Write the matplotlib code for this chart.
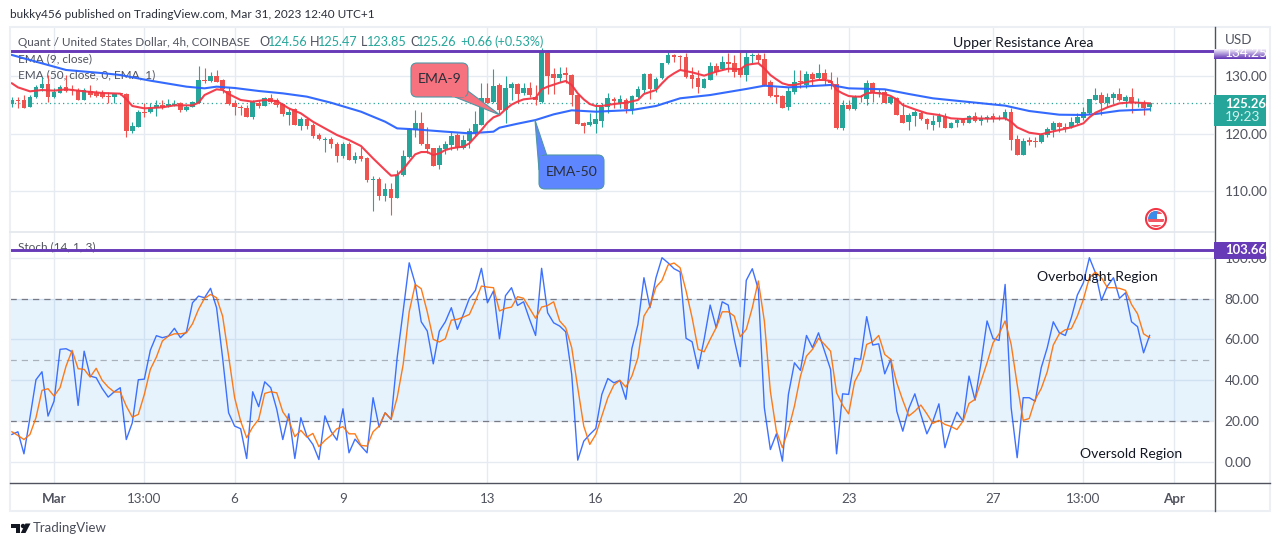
import matplotlib
matplotlib.use("Agg")
import matplotlib.pyplot as plt
import numpy as np
from matplotlib.patches import Circle, FancyBboxPatch, Polygon, Rectangle

plt.rcParams["font.family"] = ["Lato", "DejaVu Sans"]

open_px = [
    125.14, 125.84, 125.84, 124.57, 126.3, 127.86, 128.61, 126.3, 127.11, 128.03,
    127.69, 127.57, 125.84, 127.46, 127.11, 127.11, 126.53, 126.3, 127, 126.88,
    120.52, 121.21, 123.81, 123.76, 124.39, 124.91, 124.8, 124.97, 125.26, 124.1,
    124.57, 125.26, 129.31, 129.19, 130, 129.31, 127.46, 125.26, 124.62, 124.45,
    122.95, 125.37, 124.8, 126.13, 125.84, 125.14, 123.24, 124.22, 121.33, 122.54,
    121.5, 119.77, 118.96, 119.02, 118.21, 116.13, 118.21, 115.43, 116.13, 115.72,
    111.91, 112.14, 109.25, 110.41, 108.9, 112.83, 116.01, 120.64, 121.79, 118.21,
    117.46, 114.57, 117.28, 118.03, 119.77, 117.46, 118.79, 120.06, 121.5, 126.13,
    125.43, 128.44, 124.1, 127.86, 128.61, 127, 127.86, 126.42, 125.55, 133.93,
    130.35, 129.71, 130.46, 130.17, 126.7, 121.91, 121.5, 121.68, 122.25, 124.57,
    126.07, 125.37, 125.84, 124.22, 126.42, 127.57, 130.35, 127.75, 129.6, 132.2,
    133.58, 133.47, 133.24, 130.17, 129.6, 127.86, 129.31, 131.73, 131.16, 132.37,
    132.31, 131.33, 130.17, 133.47, 133.64, 132.95, 129.02, 126.7, 126.53, 124.57,
    127.28, 129.13, 128.44, 130.35, 129.6, 130.58, 129.19, 128.55, 120.92, 124.97,
    124.22, 126.53, 126.07, 128.73, 127.05, 127.22, 125.26, 126.13, 123.24, 122.08,
    123.06, 123.53, 122.54, 121.5, 122.08, 123.06, 121.04, 121.79, 122.54, 121.91,
    123.06, 122.25, 122.6, 123.06, 122.6, 122.66, 123.76, 119.02, 116.36, 118.9,
    118.73, 118.56, 119.77, 120.64, 121.79, 121.21, 121.1, 121.79, 122.77, 123.53,
    125.84, 126.7, 125.26, 126.18, 126.88, 125.66, 126.3, 125.26, 125.26, 124.56,
]
high_px = [
    126.3, 126.3, 126.7, 126.7, 128.4, 129.77, 130.17, 127.86, 128.44, 130.17,
    128.44, 127.86, 127.86, 128.44, 127.57, 127.57, 127.28, 127.11, 127.11, 127,
    122.08, 124.1, 125.26, 125.37, 125.84, 125.84, 125.95, 125.84, 125.55, 124.97,
    125.66, 131.73, 131.33, 130.75, 131.04, 129.42, 128.15, 125.84, 124.97, 124.97,
    125.84, 125.84, 126.42, 126.88, 126.13, 125.26, 124.39, 124.39, 122.83, 122.66,
    121.79, 120.06, 119.48, 119.48, 118.61, 118.61, 118.61, 116.88, 117.75, 115.9,
    112.66, 112.54, 111.5, 111.39, 113.7, 117.17, 120.92, 124.1, 123.81, 121.21,
    117.46, 118.03, 118.79, 120.35, 120.06, 119.77, 120.92, 123.99, 128.73, 128.73,
    131.16, 128.73, 130, 129.02, 128.84, 128.73, 129.02, 128.44, 134.8, 134.5,
    131.33, 131.62, 131.62, 130.35, 126.88, 122.08, 123.64, 125.26, 125.26, 126.99,
    126.3, 126.7, 126.13, 126.7, 128.32, 130.58, 130.58, 129.88, 132.31, 134.1,
    133.81, 133.58, 134.05, 131.62, 131.04, 129.6, 132.48, 132.2, 133.47, 133.93,
    133.64, 134.2, 134.2, 134.05, 134.05, 133.93, 129.31, 128.15, 126.7, 128.15,
    131.04, 131.04, 130.92, 130.75, 132.08, 131.16, 130.75, 129.88, 125.84, 125.84,
    126.7, 126.7, 129.31, 129.02, 127.69, 127.69, 126.53, 126.42, 125.26, 123.53,
    124.1, 123.99, 122.66, 123.24, 123.64, 123.53, 122.08, 122.66, 122.66, 123.24,
    123.81, 123.24, 123.24, 123.53, 123.24, 124.22, 124.39, 119.77, 119.19, 119.48,
    119.48, 120.17, 121.1, 122.2, 122.08, 121.79, 122.95, 123.53, 124.57, 126.07,
    127.98, 127.28, 127.11, 127.28, 127.86, 126.7, 127.86, 126.13, 125.84, 125.47,
]
low_px = [
    124.57, 124.4, 124.4, 124.57, 126.1, 127.46, 125.55, 126.13, 127, 127.28,
    126.7, 125.84, 125.84, 126.42, 126.3, 126.13, 125.38, 125.26, 126.7, 119.48,
    120.17, 121.1, 122.83, 123.64, 123.06, 124.33, 124.57, 124.8, 123.81, 123.99,
    124.57, 125.26, 128.73, 129.02, 128.9, 126.99, 124.97, 123.24, 123.24, 122.83,
    122.54, 124.39, 124.8, 125.26, 124.68, 123.06, 121.5, 121.5, 120.64, 120.75,
    119.19, 118.9, 116.88, 117.46, 115.14, 115.72, 115.43, 114.97, 115.32, 111.68,
    106.65, 108.5, 108.38, 105.9, 108.9, 112.66, 115.72, 119.48, 118.03, 116.7,
    114.45, 113.87, 116.42, 117.17, 117.17, 117.28, 117.46, 119.77, 121.5, 125.26,
    125.26, 123.24, 121.91, 125.84, 125.26, 126.7, 126.42, 124.97, 125.37, 126.88,
    126.88, 129.02, 128.73, 124.8, 121.68, 120.17, 121.33, 120.17, 121.21, 123.53,
    124.39, 124.39, 123.64, 123.41, 126.13, 126.99, 125.95, 127.28, 129.42, 132.08,
    132.48, 131.04, 129.6, 127.86, 127.11, 127.86, 129.31, 130.17, 131.04, 130.75,
    129.88, 129.88, 129.19, 132.2, 132.31, 128.32, 126.3, 125.26, 124.39, 124.1,
    126.88, 127.86, 127.86, 128.44, 129.42, 128.44, 127.69, 120.75, 120.64, 124.1,
    124.1, 125.55, 124.97, 125.55, 126.3, 125.26, 125.14, 123.24, 121.79, 120.64,
    121.33, 122.37, 120.75, 120.64, 121.21, 120.98, 120.92, 121.1, 121.5, 121.79,
    122.08, 121.5, 122.08, 122.08, 122.37, 122.37, 117.17, 116.3, 116.3, 118.03,
    117.75, 118.44, 119.48, 119.48, 120.35, 120.35, 120.92, 121.68, 122.37, 123.41,
    125.84, 123.24, 124.68, 125.26, 125.72, 124.68, 123.53, 124.57, 123.24, 123.85,
]
close_px = [
    125.84, 125.72, 124.5, 126.3, 128.15, 128.61, 126.3, 127.22, 128.03, 127.46,
    127.5, 125.84, 127.57, 126.7, 126.53, 126.3, 126.3, 126.88, 126.88, 120.52,
    121.33, 123.76, 123.64, 124.39, 124.97, 124.57, 125.09, 125.14, 124.1, 124.57,
    125.43, 129.31, 129.13, 130, 129.02, 127.69, 125.09, 124.57, 124.51, 122.95,
    125.55, 124.8, 126.13, 125.55, 124.97, 123.41, 123.76, 121.5, 122.49, 121.33,
    119.6, 119.02, 119.08, 118.21, 116.13, 118.21, 115.43, 116.13, 115.67, 111.97,
    112.08, 109.25, 110.41, 108.9, 112.83, 116.13, 120.75, 121.79, 118.21, 117.4,
    114.45, 117.46, 118.15, 119.6, 117.46, 118.9, 120.46, 121.68, 126.13, 125.37,
    128.27, 124.1, 127.86, 128.61, 126.88, 127.86, 126.7, 125.84, 134.1, 130,
    129.71, 130.35, 130.12, 126.7, 121.68, 121.33, 121.97, 122.49, 124.57, 126.13,
    125.66, 125.95, 124.22, 126.53, 127.75, 130.35, 127.69, 129.42, 132.2, 133.64,
    133.24, 133.24, 129.77, 129.48, 128.03, 129.42, 131.73, 130.75, 132.48, 132.14,
    130.75, 130.17, 133.35, 133.64, 132.77, 128.44, 126.53, 126.42, 124.51, 127.46,
    129.02, 128.9, 130.35, 129.42, 130.58, 129.42, 128.73, 121.04, 124.97, 124.22,
    126.42, 126.3, 128.73, 127.11, 127.22, 125.26, 126.3, 123.24, 121.91, 123.18,
    123.76, 122.49, 121.68, 122.2, 123.06, 120.98, 121.79, 122.37, 121.79, 123.06,
    122.25, 122.77, 122.95, 122.49, 122.77, 123.76, 118.9, 116.36, 118.79, 118.56,
    118.56, 119.77, 120.81, 121.91, 121.1, 121.04, 122.02, 122.95, 123.76, 125.95,
    126.7, 125.37, 126.3, 126.88, 125.84, 126.42, 125.26, 125.37, 124.51, 125.26,
]

ema9_bar = [
    0, 1, 3, 5, 7, 9, 12, 15, 18, 19, 20, 22, 25, 27, 30, 31, 32, 34, 35, 36, 38, 40, 42, 44, 46, 48,
    50, 52, 54, 56, 58, 60, 62, 63, 64, 65, 66, 67, 68, 69, 70, 71, 72, 73, 74, 75, 76, 77, 78, 79,
    80, 81, 82, 83, 84, 85, 86, 87, 88, 89, 90, 91, 92, 93, 94, 95, 96, 97, 98, 100, 102, 104, 105,
    107, 108, 109, 110, 111, 113, 115, 117, 119, 121, 122, 123, 124, 125, 126, 127, 128, 129, 130,
    132, 134, 135, 136, 137, 138, 139, 140, 141, 142, 143, 145, 146, 147, 148, 150, 152, 154, 156,
    158, 160, 162, 165, 166, 167, 169, 171, 172, 174, 176, 178, 179, 180, 182, 184, 186, 189,
]
ema9 = [
    128.73, 128.03, 127.34, 127.57, 127.46, 127.69, 127.34, 127.05, 126.94, 126.0, 124.8, 124.39,
    124.57, 124.91, 124.91, 125.37, 126.7, 127.69, 127.57, 126.88, 125.84, 125.55, 125.84, 125.66,
    124.39, 123.53, 122.08, 120.92, 119.77, 118.9, 117.86, 115.72, 113.7, 112.72, 112.83, 113.82,
    115.15, 116.42, 116.82, 116.82, 116.3, 116.59, 117.17, 117.46, 117.63, 117.75, 118.32, 119.48,
    120.64, 121.91, 122.83, 123.24, 124.22, 125.03, 125.55, 125.95, 126.07, 126.18, 127.69, 128.15,
    128.5, 128.84, 129.13, 128.44, 126.99, 125.95, 125.14, 124.8, 124.8, 125.14, 125.37, 125.84,
    126.88, 127.57, 128.73, 129.77, 130.46, 131.04, 130.63, 130.06, 130.75, 131.27, 131.16, 131.91,
    132.08, 132.2, 131.33, 130.17, 129.42, 128.73, 128.44, 128.44, 128.96, 129.31, 129.31, 129.13,
    127.57, 126.99, 126.53, 126.42, 126.42, 126.99, 127.11, 126.88, 126.53, 125.95, 124.97, 124.22,
    123.53, 123.24, 122.66, 122.54, 122.66, 122.6, 122.66, 122.08, 121.1, 120.17, 119.88, 120.17,
    120.64, 121.1, 121.79, 122.83, 123.64, 124.57, 125.26, 125.43, 125.26,
]
ema50_bar = [
    0, 4, 9, 15, 18, 23, 29, 32, 34, 37, 41, 45, 49, 53, 58, 62, 64, 67, 72, 76, 80, 81, 84, 87, 90,
    93, 97, 103, 107, 111, 116, 122, 125, 129, 136, 139, 145, 149, 153, 159, 165, 169, 174, 178, 180,
    184, 189,
]
ema50 = [
    133.64, 132.48, 131.04, 130.5, 130.17, 129.19, 128.15, 127.86, 128.15, 127.92, 127.4, 126.99,
    126.42, 125.37, 123.81, 122.08, 120.92, 120.75, 120.35, 120.06, 120.35, 121.04, 121.73, 122.37,
    123.35, 124.05, 123.81, 124.1, 124.8, 126.13, 126.7, 127.75, 128.32, 128.03, 128.44, 127.86,
    127.69, 126.88, 126.13, 125.49, 124.86, 123.93, 123.29, 123.24, 123.41, 123.99, 124.22,
]

stoch_k = [
    13.4, 14.7, 3.9, 21.6, 40.2, 44.1, 22.4, 29.7, 55.1, 55.4,
    53.9, 27.6, 54.2, 42, 41.2, 35.9, 31.7, 34.3, 36.3, 10.9,
    19.1, 40.2, 40.5, 54.7, 61.8, 60.8, 61.6, 65.4, 60.8, 63.7,
    77.9, 81.2, 80.4, 85, 75.5, 51, 24, 17.5, 16.2, 1.6,
    34.3, 27, 39.2, 36.3, 25.7, 10.9, 23.5, 1.6, 21.6, 12.6,
    8.5, 1.1, 22.5, 15, 10.6, 26, 4.4, 11.1, 7.7, 4.4,
    31.4, 17, 24, 20.8, 51, 73.9, 97.5, 87.3, 68.6, 64.1,
    48, 64, 68.6, 75.5, 64.9, 72.2, 80.1, 84, 94.8, 77.9,
    83.7, 60.3, 81.4, 85.3, 76.6, 78.4, 69.8, 61.9, 94.8, 73,
    68.1, 66.5, 63.7, 42.8, 0.8, 10.1, 13.4, 16.3, 33, 40.8,
    38.7, 39.9, 30.6, 55.6, 67.3, 90.2, 75.5, 90.2, 100, 97.5,
    94.6, 93.1, 60.5, 58.8, 45.6, 60, 76.8, 65.7, 78.4, 76.8,
    60, 46.6, 88.9, 94.6, 84.5, 26.5, 6, 13.7, 0.3, 33,
    48.5, 44.8, 61.9, 55.9, 63.2, 54.2, 45.3, 3.9, 33.3, 33,
    50.7, 50.2, 71.1, 57.2, 57.8, 43.1, 50.2, 24.8, 15, 26.1,
    33.3, 23.2, 13.7, 19.9, 28.4, 6.9, 16.7, 24.3, 19.9, 42,
    30.2, 48.5, 69, 60.3, 59.5, 86.9, 26.5, 2, 31.4, 31.4,
    29.7, 46.1, 55.9, 68.6, 63.2, 61.9, 70.6, 81.7, 87.7, 100,
    92.6, 79.1, 86.1, 90.2, 80.1, 82.8, 68.6, 66.2, 53.4, 61.9,
]
stoch_d = [
    14.7, 12.9, 10.9, 13.4, 21.6, 35, 35.8, 32.2, 36.3, 46.9,
    54.6, 45.6, 45.3, 41.5, 45.8, 39.9, 36.6, 34.2, 34.2, 27.3,
    21.9, 23.2, 33, 45.3, 51.3, 59.2, 61.6, 62.7, 62.7, 63.2,
    67.6, 74.7, 80.1, 82, 80.4, 71.4, 51.8, 31.4, 19.9, 11.8,
    17, 20.8, 33.5, 34.3, 33.8, 24.5, 20.3, 12.3, 15.4, 12.1,
    13.9, 7.4, 10.5, 12.9, 16.2, 17.2, 13.7, 13.7, 8, 7.7,
    14.7, 17.5, 24, 20.8, 31.4, 47.7, 73.5, 86.9, 84.8, 73.5,
    60, 58.7, 60.3, 69.4, 69.8, 70.9, 72.2, 78.8, 86.1, 85.6,
    85.3, 73.9, 75.2, 75.8, 80.9, 80.1, 75.2, 70.3, 75.8, 76.6,
    78.4, 69, 65.7, 55.9, 36.3, 17.5, 8.5, 13.4, 22.4, 31.4,
    37.6, 39.9, 36.6, 42, 51, 71.4, 76.3, 85.6, 88.9, 96.4,
    97.4, 95.1, 83.7, 70.6, 55.1, 53.9, 60, 65.7, 73.5, 73.5,
    71.4, 61.3, 64.9, 75.5, 88.6, 69, 34.6, 15, 6.9, 15.8,
    27.3, 42, 51.8, 55.1, 60.5, 57.5, 54.2, 33.8, 27.8, 23.5,
    39.2, 44.8, 57.5, 58.8, 61.9, 52.6, 50.2, 38.7, 30.1, 22.4,
    24.8, 27.8, 23.5, 18.8, 20.3, 18.3, 17.3, 15.8, 19.9, 28.6,
    30.6, 39.5, 48.5, 58.3, 62.7, 69, 57.5, 37.9, 20.3, 21.2,
    30.6, 35.9, 44.1, 57.2, 62.7, 64.7, 65.2, 71.4, 79.6, 90.2,
    93, 90.2, 85.3, 85.3, 85, 84, 77.1, 72.5, 62.7, 60.8,
]

tick_bars = [7, 22, 37, 55, 79, 97, 121, 139, 163, 178, 193]
tick_labels = ["Mar", "13:00", "6", "9", "13", "16", "20", "23", "27", "13:00", "Apr"]
price_ticks = [110, 120, 130]
stoch_ticks = [0, 20, 40, 60, 80, 100]
resistance = 134.25
last_price = 125.26
stoch_line = 103.66

GREEN = "#26a69a"
RED = "#ef5350"
GRID = "#e6ebf2"
PURPLE = "#673ab7"
TEXT = "#131722"
SCALE = "#50535e"
FS = 8.45


def box(left, top, right, bottom):
    return [left / 1280, 1 - bottom / 546, (right - left) / 1280, (bottom - top) / 546]


fig = plt.figure(figsize=(12.8, 5.46), dpi=100)
ax = fig.add_axes(box(10, 27, 1214, 232))
ax2 = fig.add_axes(box(10, 232, 1214, 483))
ov = fig.add_axes([0, 0, 1, 1], zorder=5)
ov.set_xlim(0, 1280)
ov.set_ylim(546, 0)
ov.axis("off")

bars = np.arange(len(close_px))
opens = np.array(open_px)
closes = np.array(close_px)
colors = [GREEN if c >= o else RED for o, c in zip(open_px, close_px)]

ax.vlines(bars, low_px, high_px, colors=colors, lw=0.8, zorder=3)
ax.bar(bars, np.maximum(np.abs(closes - opens), 0.15), bottom=np.minimum(opens, closes),
       width=0.78, color=colors, linewidth=0, zorder=3)
ax.plot(ema50_bar, ema50, color="#2962ff", lw=1.5, alpha=0.95, zorder=4)
ax.plot(ema9_bar, ema9, color="#f23645", lw=1.5, alpha=0.95, zorder=4)
ax.axhline(last_price, color=GREEN, lw=0.9, ls=(0, (1, 2.5)), zorder=2)
ax.axhline(resistance, color=PURPLE, lw=2.1, zorder=5)
ax.set_ylim(102.96, 138.49)
ax.set_yticks(price_ticks)
ax.set_yticklabels(["%.2f" % p for p in price_ticks])

ax2.axhspan(20, 80, color="#2196f3", alpha=0.11, lw=0, zorder=1)
ax2.axhline(80, color="#787b86", lw=0.9, ls=(0, (5, 4)), zorder=2)
ax2.axhline(50, color="#787b86", lw=0.9, alpha=0.55, ls=(0, (5, 4)), zorder=2)
ax2.axhline(20, color="#787b86", lw=0.9, ls=(0, (5, 4)), zorder=2)
ax2.plot(bars, stoch_k, color="#2962ff", lw=1.0, alpha=0.9, zorder=3)
ax2.plot(bars, stoch_d, color="#ff6d00", lw=1.0, alpha=0.9, zorder=4)
ax2.axhline(stoch_line, color=PURPLE, lw=2.1, zorder=5)
ax2.set_ylim(-10.4, 112.6)
ax2.set_yticks(stoch_ticks)
ax2.set_yticklabels(["%.2f" % s for s in stoch_ticks])

for a in (ax, ax2):
    a.set_xlim(-0.316, 199.7)
    a.set_xticks(tick_bars)
    a.grid(True, color=GRID, lw=1.0, zorder=0)
    a.set_axisbelow(True)
    a.yaxis.tick_right()
    a.tick_params(axis="y", length=0, pad=7.5, labelsize=9.9, labelcolor=SCALE)
    a.tick_params(axis="x", length=0)
    for s in a.spines.values():
        s.set_visible(False)
ax.set_xticklabels([])
ax2.set_xticklabels(tick_labels, fontsize=9.6, color=SCALE)
ax2.tick_params(axis="x", pad=7)
ax2.get_xticklabels()[0].set_fontweight("bold")
ax2.get_xticklabels()[-1].set_fontweight("bold")

# frame of the chart
ov.add_patch(Rectangle((10, 26.5), 1260, 484.5, fill=False, ec="#eceff4", lw=1.5))
ov.plot([10, 1214], [232, 232], color="#e3e7ee", lw=1.2)
ov.plot([10, 1270], [483, 483], color="#50535e", lw=1.0)
ov.plot([1214.5, 1214.5], [27, 511], color="#50535e", lw=1.0)

# header and pane titles
ov.text(10, 14, "bukky456 published on TradingView.com, Mar 31, 2023 12:40 UTC+1", fontsize=FS,
        color="#2a2e39", va="center")
ov.text(18, 42, "Quant / United States Dollar, 4h, COINBASE", fontsize=FS, color=SCALE, va="center")
for x, s, c in [(259, "O", SCALE), (268, "124.56", GREEN), (310, "H", SCALE), (318, "125.47", GREEN),
                (361, "L", SCALE), (367, "123.85", GREEN), (410, "C", SCALE), (417, "125.26", GREEN),
                (460, "+0.66", GREEN), (494, "(+0.53%)", GREEN)]:
    ov.text(x, 42, s, fontsize=FS + 0.6, color=c, va="center")
ax.text(18, 59, "EMA (9, close)", transform=ov.transData, fontsize=FS, color=SCALE, va="center", zorder=1.5)
ax.text(18, 75, "EMA (50, close, 0, EMA, 1)", transform=ov.transData, fontsize=FS, color=SCALE,
        va="center", zorder=1.5)
ax2.text(18, 247, "Stoch (14, 1, 3)", transform=ov.transData, fontsize=FS, color=SCALE, va="center", zorder=1.5)

ov.text(953, 43, "Upper Resistance Area", fontsize=10.1, color=TEXT, va="center")
ov.text(1037, 277, "Overbought Region", fontsize=10.1, color=TEXT, va="center")
ov.text(1080, 454, "Oversold Region", fontsize=10.1, color=TEXT, va="center")

# callouts
ov.add_patch(Polygon([(464, 88), (500, 115), (455, 97)], fc="#f7727f", ec="#4f97a6", lw=0.8))
ov.add_patch(FancyBboxPatch((415, 67), 49, 26, boxstyle="round,pad=4,rounding_size=6", fc="#f7727f", ec="#4f97a6", lw=0.8))
ov.add_patch(Rectangle((452, 86), 13, 11, fc="#f7727f", ec="none"))
ov.text(439.5, 79, "EMA-9", fontsize=10.1, color="#2a2e39", ha="center", va="center")
ov.add_patch(Polygon([(535, 120), (547, 156), (539, 170)], fc="#5e86ff", ec="#4f97a6", lw=0.8))
ov.add_patch(FancyBboxPatch((543, 159), 57, 26, boxstyle="round,pad=4,rounding_size=6", fc="#5e86ff", ec="#4f97a6", lw=0.8))
ov.add_patch(Rectangle((539.6, 156), 10, 14, fc="#5e86ff", ec="none"))
ov.text(571.5, 171.5, "EMA-50", fontsize=10.1, color="#2a2e39", ha="center", va="center")

# scale labels
ov.text(1225, 40, "USD", fontsize=9.6, color=SCALE, va="center")
grad = np.linspace(0, 1, 12)[:, None]
ov.imshow(grad, extent=(1214, 1266, 59.5, 50), aspect="auto", cmap=matplotlib.colors.LinearSegmentedColormap.from_list("p", ["#f0ebf8", PURPLE]), zorder=2)
ov.set_xlim(0, 1280)
ov.set_ylim(546, 0)
clip = Rectangle((1214, 50), 52, 9.5, transform=ov.transData)
ov.text(1225, 53, "134.25", fontsize=9.9, color="white", va="center", clip_path=clip, clip_on=True, zorder=3)
ov.add_patch(Rectangle((1214, 95), 52, 31, fc=GREEN, ec="none", zorder=2))
ov.text(1225, 103.5, "125.26", fontsize=9.4, color="white", fontweight="bold", va="center", zorder=3)
ov.text(1225, 117, "19:23", fontsize=9.9, color="#d4f0ec", va="center", zorder=3)
ov.add_patch(Rectangle((1214, 242), 52, 17, fc=PURPLE, ec="none", zorder=3))
ov.text(1225, 250.5, "103.66", fontsize=9.4, color="white", fontweight="bold", va="center", zorder=4)

# flag icon
ov.add_patch(Circle((1156, 219), 10, fc="white", ec="#f23645", lw=1.5))
disc = Circle((1156, 219), 8, transform=ov.transData)
for y0 in (219, 224.5):
    ov.add_patch(Rectangle((1148, y0), 16, 2.5, fc="#f25563", ec="none", clip_path=disc))
ov.add_patch(Rectangle((1148, 211), 16, 3, fc="#f25563", ec="none", clip_path=disc))
ov.add_patch(Rectangle((1148, 211), 9, 8, fc="#3d8be8", ec="none", clip_path=disc))

# footer logo
ov.add_patch(Polygon([(10.5, 523.5), (20, 523.5), (20, 533), (15.5, 533), (15.5, 528), (10.5, 528)], fc="#131722", ec="none"))
ov.add_patch(Circle((23, 526), 2.2, fc="#131722", ec="none"))
ov.add_patch(Polygon([(25.5, 523.5), (30.5, 523.5), (25.5, 533), (20.8, 533)], fc="#131722", ec="none"))
ov.text(33, 528, "TradingView", fontsize=9.5, color="#4a4e59", va="center")

fig.savefig("out.png", dpi=100)
